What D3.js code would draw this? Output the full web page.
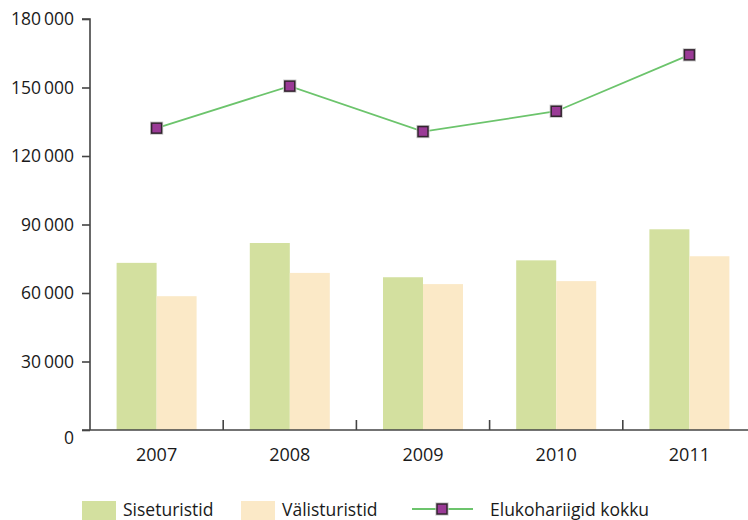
<!DOCTYPE html>
<html>
<head>
<meta charset="utf-8">
<script src="https://cdn.jsdelivr.net/npm/d3@7"></script>
<style>
  body { margin: 0; background: #fff; }
  text { font-family: "Open Sans", "Noto Sans", sans-serif; fill: #1a1a1a; }
</style>
</head>
<body>
<div id="chart"></div>
<script>
var years = ['2007', '2008', '2009', '2010', '2011'];
var siseturistid = [73200, 81900, 66900, 74300, 87900];
var valisturistid = [58600, 68800, 63900, 65200, 76100];
var kokku = [132200, 150600, 130700, 139600, 164300];
var yTicks = [0, 30000, 60000, 90000, 120000, 150000, 180000];
var seriesNames = ['Siseturistid', 'Välisturistid', 'Elukohariigid kokku'];

var svgWidth = 748, svgHeight = 520;
var green = '#d3e09f', beige = '#fbe9c7', lineColor = '#6cc46c';
var markerFill = '#9a3a96', markerStroke = '#33252f', axisColor = '#444';

var svg = d3.select('#chart').append('svg')
  .attr('width', svgWidth).attr('height', svgHeight);

var x = d3.scaleBand().domain(years).range([90, 756]).padding(0);
var y = d3.scaleLinear().domain([0, 180000]).range([430, 19]);
var barW = 40;

function fmt(v) {
  return d3.format(',')(v).replace(/,/g, '\u2009');
}

// bars
svg.append('g').selectAll('rect')
  .data(siseturistid)
  .enter().append('rect')
  .attr('x', function(d, i) { return x(years[i]) + x.bandwidth() / 2 - barW; })
  .attr('y', function(d) { return y(d); })
  .attr('width', barW)
  .attr('height', function(d) { return y(0) - y(d); })
  .attr('fill', green);

svg.append('g').selectAll('rect')
  .data(valisturistid)
  .enter().append('rect')
  .attr('x', function(d, i) { return x(years[i]) + x.bandwidth() / 2; })
  .attr('y', function(d) { return y(d); })
  .attr('width', barW)
  .attr('height', function(d) { return y(0) - y(d); })
  .attr('fill', beige);

// y axis
var yAxis = svg.append('g')
  .attr('transform', 'translate(90,0)')
  .call(d3.axisLeft(y).tickValues(yTicks).tickSize(8).tickPadding(8)
    .tickFormat(fmt));
yAxis.select('.domain').attr('stroke', axisColor).attr('stroke-width', 1.6)
  .attr('d', 'M-8,' + y(180000) + 'H0V' + y(0));
yAxis.selectAll('.tick line').attr('stroke', axisColor).attr('stroke-width', 1.6);
yAxis.selectAll('.tick text').attr('font-size', 17.5).attr('fill', '#1a1a1a')
  .attr('font-family', '"Open Sans", sans-serif');
yAxis.selectAll('.tick').filter(function(d) { return d === 0; })
  .select('text').attr('dy', '0.75em');

// x axis
var xAxis = svg.append('g').attr('transform', 'translate(0,' + y(0) + ')');
xAxis.append('line')
  .attr('x1', 82).attr('x2', svgWidth)
  .attr('stroke', axisColor).attr('stroke-width', 1.6);
xAxis.selectAll('line.sep')
  .data(years.slice(1))
  .enter().append('line')
  .attr('class', 'sep')
  .attr('x1', function(d) { return x(d); })
  .attr('x2', function(d) { return x(d); })
  .attr('y1', 0).attr('y2', -10)
  .attr('stroke', axisColor).attr('stroke-width', 1.6);
xAxis.selectAll('text')
  .data(years)
  .enter().append('text')
  .attr('x', function(d) { return x(d) + x.bandwidth() / 2; })
  .attr('y', 31)
  .attr('text-anchor', 'middle')
  .attr('font-size', 18)
  .text(function(d) { return d; });

// line + markers
var line = d3.line()
  .x(function(d, i) { return x(years[i]) + x.bandwidth() / 2; })
  .y(function(d) { return y(d); });

svg.append('path')
  .datum(kokku)
  .attr('d', line)
  .attr('fill', 'none')
  .attr('stroke', lineColor)
  .attr('stroke-width', 1.8);

function marker(sel) {
  sel.append('rect')
    .attr('x', -6).attr('y', -6).attr('width', 12).attr('height', 12)
    .attr('fill', 'none').attr('stroke', '#c8c8c8').attr('stroke-width', 1.2);
  sel.append('rect')
    .attr('x', -5).attr('y', -5).attr('width', 10).attr('height', 10)
    .attr('fill', markerFill).attr('stroke', markerStroke).attr('stroke-width', 1.5);
}

svg.append('g').selectAll('g')
  .data(kokku)
  .enter().append('g')
  .attr('transform', function(d, i) {
    return 'translate(' + (x(years[i]) + x.bandwidth() / 2) + ',' + y(d) + ')';
  })
  .call(marker);

// legend
var legend = svg.append('g');
legend.append('rect').attr('x', 82).attr('y', 501).attr('width', 34).attr('height', 22).attr('fill', green);
legend.append('text').attr('x', 123).attr('y', 516).attr('font-size', 17.5).text(seriesNames[0]);
legend.append('rect').attr('x', 241).attr('y', 501).attr('width', 34).attr('height', 22).attr('fill', beige);
legend.append('text').attr('x', 282).attr('y', 516).attr('font-size', 17.5).text(seriesNames[1]);
legend.append('line').attr('x1', 412).attr('x2', 473).attr('y1', 509).attr('y2', 509)
  .attr('stroke', lineColor).attr('stroke-width', 1.8);
legend.append('g').attr('transform', 'translate(442,509)').call(marker);
legend.append('text').attr('x', 490).attr('y', 516).attr('font-size', 17.5).text(seriesNames[2]);
</script>
</body>
</html>
